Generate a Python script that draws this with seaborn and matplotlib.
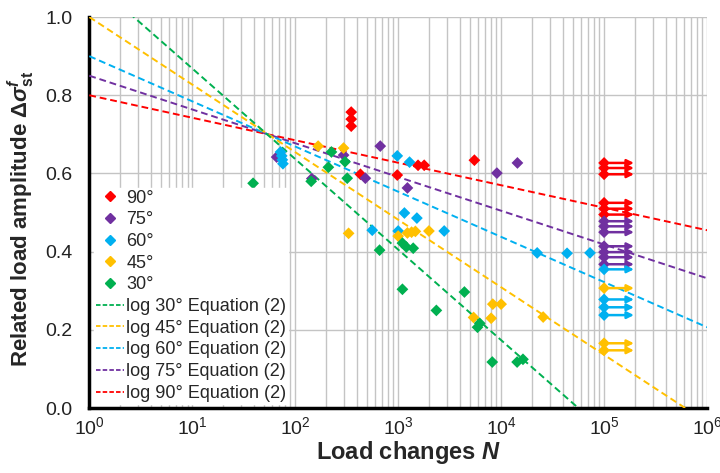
import numpy as np
import pandas as pd
import matplotlib
matplotlib.use('Agg')
import matplotlib.pyplot as plt
from matplotlib.lines import Line2D
from matplotlib.patches import FancyArrowPatch
import seaborn as sns

red_N = [350, 350, 350, 430, 980, 1560, 1790, 5500]
red_y = [0.757, 0.739, 0.721, 0.598, 0.596, 0.621, 0.621, 0.634]
purple_N = [66, 145, 295, 480, 670, 1230, 9100, 14400]
purple_y = [0.642, 0.587, 0.647, 0.588, 0.670, 0.563, 0.601, 0.627]
cyan_N = [72, 74, 75, 76, 560, 980, 1000, 1150, 1290, 1520, 2800, 22400, 43700, 73000]
cyan_y = [0.655, 0.645, 0.635, 0.625, 0.455, 0.645, 0.453, 0.499, 0.629, 0.486, 0.453, 0.397, 0.396, 0.397]
yellow_N = [167, 295, 330, 1000, 1230, 1350, 1470, 1990, 5400, 8000, 8300, 10000, 25600]
yellow_y = [0.670, 0.665, 0.447, 0.44, 0.448, 0.45, 0.452, 0.453, 0.232, 0.230, 0.266, 0.266, 0.233]
green_N = [39, 143, 210, 225, 305, 320, 660, 1100, 1200, 1400, 1100, 2350, 4400, 5900, 6200, 8200, 14300, 16300]
green_y = [0.575, 0.58, 0.616, 0.655, 0.63, 0.588, 0.404, 0.422, 0.412, 0.409, 0.304, 0.25, 0.297, 0.207, 0.217, 0.118, 0.118, 0.125]

# run-outs at N = 1e5 (drawn with arrows)
runout_N = 1e5
red_run = [0.627, 0.614, 0.598, 0.525, 0.51, 0.495]
purple_run = [0.478, 0.465, 0.45, 0.414, 0.399, 0.386, 0.368]
cyan_run = [0.355, 0.278, 0.258, 0.238]
yellow_run = [0.307, 0.166, 0.148]
green_run = []

# Equation (2): amp = a + b*log10(N)
angles = ['90°', '75°', '60°', '45°', '30°']
eq_a = [0.80, 0.85, 0.90, 1.00, 1.10]
eq_b = [-0.0575, -0.0863, -0.1155, -0.1727, -0.2315]
colors = ['#ff0000', '#7030a0', '#00b0f0', '#ffc000', '#00b050']

pts = {'90°': (red_N, red_y), '75°': (purple_N, purple_y), '60°': (cyan_N, cyan_y),
       '45°': (yellow_N, yellow_y), '30°': (green_N, green_y)}
runs = {'90°': red_run, '75°': purple_run, '60°': cyan_run, '45°': yellow_run, '30°': green_run}

rows = []
for ang in angles:
    n, y = pts[ang]
    rows += [(ang, a, b) for a, b in zip(n, y)]
    rows += [(ang, runout_N, b) for b in runs[ang]]
df = pd.DataFrame(rows, columns=['angle', 'N', 'amp'])

sns.set_theme(style='white')
plt.rcParams['font.family'] = ['Liberation Sans', 'DejaVu Sans']
plt.rcParams['mathtext.fontset'] = 'custom'
plt.rcParams['mathtext.rm'] = 'Liberation Sans'
plt.rcParams['mathtext.it'] = 'Liberation Sans:italic'
plt.rcParams['mathtext.bf'] = 'Liberation Sans:bold'
plt.rcParams['mathtext.bfit'] = 'Liberation Sans:bold:italic'

fig = plt.figure(figsize=(7.2, 4.73), dpi=100)
ax = fig.add_axes([0.124, 0.137, 0.858, 0.827])
ax.set_xscale('log')

pal = dict(zip(angles, colors))
# fit lines
for ang, a, b, c in zip(angles, eq_a, eq_b, colors):
    xx = np.array([1.0, 1e6])
    line = pd.DataFrame({'N': xx, 'amp': a + b * np.log10(xx)})
    sns.lineplot(data=line, x='N', y='amp', color=c, lw=1.4, ax=ax,
                 linestyle=(0, (3.5, 2)), zorder=3)

sns.scatterplot(data=df, x='N', y='amp', hue='angle', palette=pal, marker='D',
                s=36, linewidth=0, legend=False, ax=ax, zorder=4)

for ang, c in zip(angles, colors):
    for v in runs[ang]:
        arr = FancyArrowPatch((1.12e5, v), (1.95e5, v), arrowstyle='-|>',
                              mutation_scale=10, color=c, lw=1.8,
                              shrinkA=0, shrinkB=0, zorder=4)
        ax.add_patch(arr)

ax.set_xlim(1, 1e6)
ax.set_ylim(0, 1.0)
ax.set_yticks(np.arange(0, 1.01, 0.2))
ax.set_yticklabels([f'{v:.1f}' for v in np.arange(0, 1.01, 0.2)])
ax.grid(True, which='major', color='#c4c4c4', lw=1.0)
ax.grid(True, which='minor', axis='x', color='#c4c4c4', lw=1.0)
ax.set_axisbelow(True)
ax.tick_params(which='both', length=0, labelsize=14, colors='#222222')
ax.tick_params(axis='x', pad=6)
ax.tick_params(axis='y', pad=12)
for s in ['top', 'right']:
    ax.spines[s].set_visible(False)
for s in ['left', 'bottom']:
    ax.spines[s].set_color('black')
    ax.spines[s].set_linewidth(2.5)

ax.set_xlabel(r'Load changes $\boldsymbol{N}$', fontsize=17, fontweight='bold')
ax.xaxis.set_label_coords(0.516, -0.08)
ax.set_ylabel(r'Related load amplitude $\mathbf{\Delta}\boldsymbol{\sigma}^{\boldsymbol{f}}_{\mathbf{st}}$',
              fontsize=16, fontweight='bold')
ax.yaxis.set_label_coords(-0.084, 0.485)

handles = [Line2D([], [], marker='D', ls='none', color=c, markersize=5.5) for c in colors]
labels = list(angles)
for ang in angles[::-1]:
    c = pal[ang]
    handles.append(Line2D([], [], color=c, lw=1.3, linestyle=(0, (2.5, 1.2))))
    labels.append(f'log {ang} Equation (2)')
leg = ax.legend(handles, labels, loc='lower left', bbox_to_anchor=(0.0, 0.0),
                fontsize=13, frameon=True, fancybox=False, framealpha=1,
                edgecolor='white', handlelength=1.55, handletextpad=0.15,
                labelspacing=0.26, borderpad=0.1, borderaxespad=0.25)
leg.set_zorder(5)

fig.savefig('out.png', dpi=100)
